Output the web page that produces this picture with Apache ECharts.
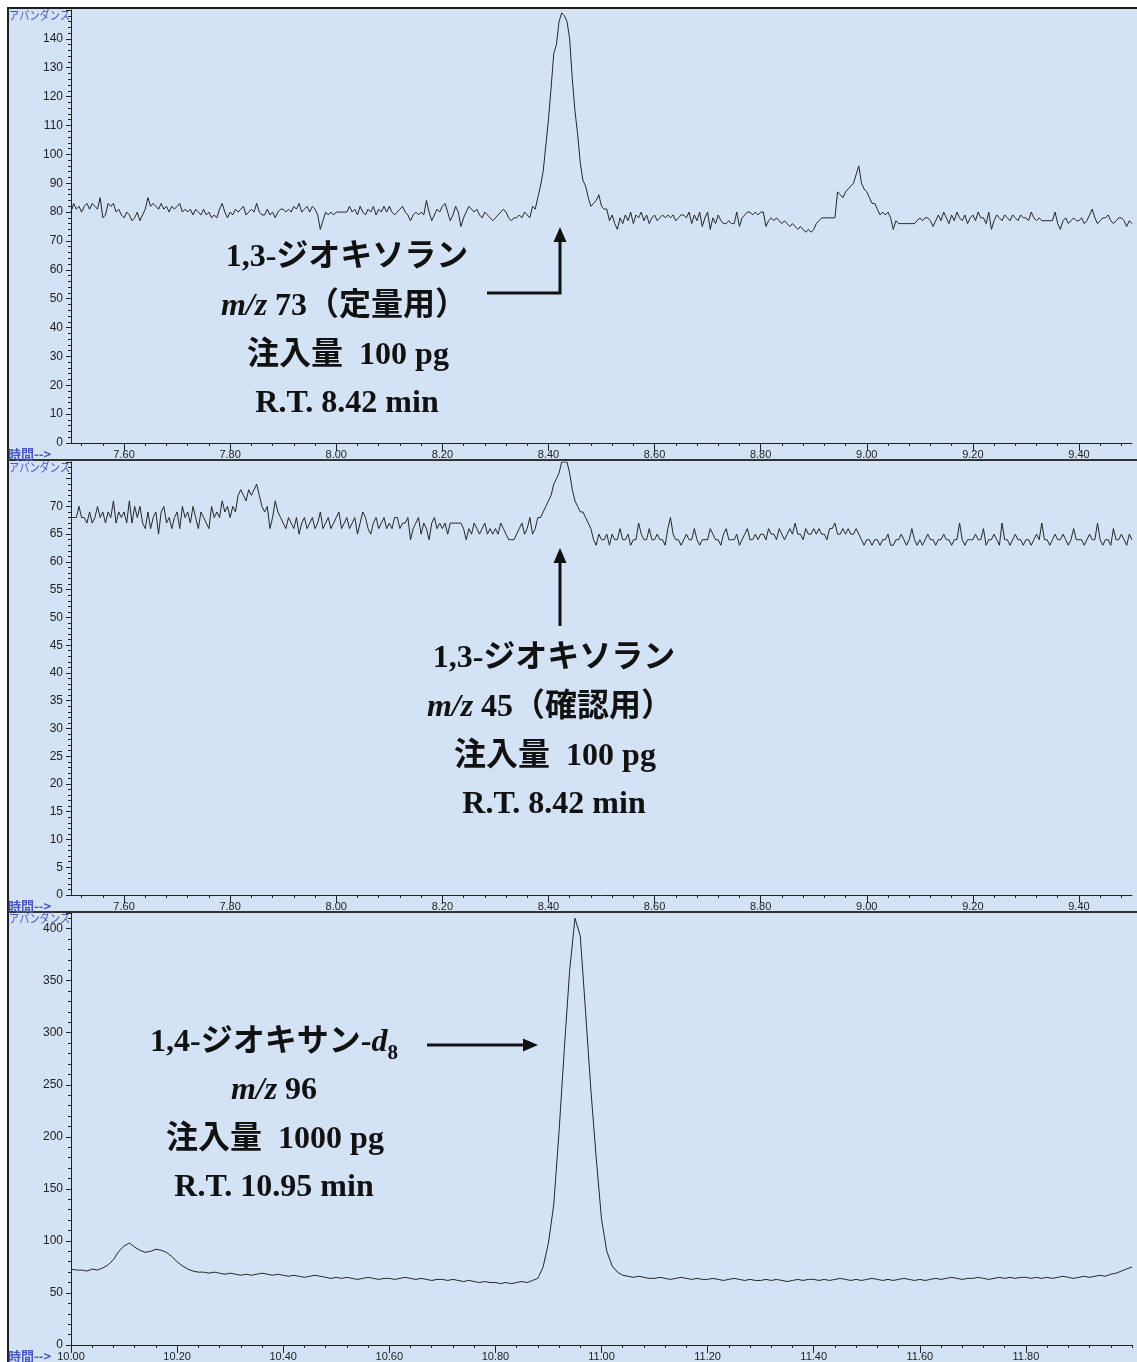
<!DOCTYPE html>
<html>
<head>
<meta charset="utf-8">
<script src="https://cdn.jsdelivr.net/npm/echarts@6/dist/echarts.min.js"></script>
<style>
html,body{margin:0;padding:0;background:#ffffff;}
#c{width:1137px;height:1362px;}
</style>
</head>
<body>
<div id="c"></div>
<script>
// SIM trace m/z 73, 7.500–9.500 min, one point every 0.005 min
const t73Start = 7.5, t73Step = 0.005;
const abund73 = [
  80,83,81,82,80,82,83,81,83,82,81,85,78,79,83,82,83,80,81,79,
  78,80,79,77,78,80,77,79,81,85,82,83,82,81,83,81,82,80,82,81,
  82,83,80,81,80,81,79,81,80,79,81,79,80,78,79,78,81,83,80,78,
  80,79,81,80,81,82,79,80,81,80,83,80,79,79,81,79,80,78,80,81,
  81,80,81,80,82,81,83,80,81,82,80,82,81,79,74,77,80,79,80,79,
  80,80,80,80,80,82,80,81,79,82,80,79,81,80,82,79,81,80,82,80,
  82,80,79,80,81,82,80,79,77,79,80,79,80,79,84,80,77,79,81,80,
  82,83,80,77,79,82,80,75,78,80,82,81,80,81,79,78,80,79,78,77,
  78,79,80,81,80,78,77,78,78,79,78,80,79,78,82,81,85,89,94,103,
  112,123,135,138,146,149,148,146,140,126,115,107,97,91,89,85,82,83,84,86,
  82,81,81,77,79,76,74,78,76,79,77,80,76,79,78,80,77,79,76,78,
  79,77,78,79,78,79,78,79,77,78,79,79,78,80,76,79,77,80,75,78,
  80,74,78,76,79,77,76,76,77,76,76,80,75,78,79,80,80,79,80,79,
  80,80,75,77,78,77,78,77,76,77,76,75,76,75,74,75,74,73,74,73,
  74,76,77,78,78,78,78,78,78,87,86,85,87,88,89,90,93,96,90,88,
  87,85,83,83,81,79,80,79,80,78,74,77,76,76,76,76,76,76,76,77,
  78,77,78,78,77,75,77,79,77,80,78,76,79,77,80,78,77,79,76,78,
  79,77,80,78,78,76,80,74,77,79,78,77,79,78,77,79,78,77,79,78,
  78,77,80,78,77,78,77,77,77,77,77,80,76,74,77,78,76,77,78,77,
  77,78,76,77,79,81,78,76,77,78,78,79,77,76,77,78,78,77,75,77,
  76
];

// SIM trace m/z 45, same time window
const t45Start = 7.5, t45Step = 0.005;
const abund45 = [
  68,68,68,70,68,68,67,69,67,68,70,68,69,67,69,68,71,67,69,68,
  69,67,71,67,70,68,70,67,66,69,66,68,69,65,69,70,67,68,66,68,
  69,66,70,68,69,67,70,68,66,69,68,67,66,70,68,69,68,71,69,70,
  68,70,69,72,73,72,71,73,72,73,74,72,70,69,70,66,68,71,69,68,
  67,66,68,67,66,68,65,67,68,66,67,68,66,67,69,66,67,68,66,67,
  68,69,66,67,68,66,67,68,65,67,69,68,66,65,67,68,66,67,68,66,
  67,66,68,68,66,67,67,68,64,66,67,68,65,67,66,64,67,68,66,67,
  66,67,65,67,67,67,67,67,66,64,66,65,67,66,65,66,67,65,66,65,
  66,65,67,66,65,64,64,64,65,66,67,65,66,68,65,66,68,68,69,70,
  71,72,74,75,76,78,78,78,76,73,71,70,69,69,68,67,66,64,63,65,
  64,64,65,63,65,64,64,66,64,64,65,63,64,64,67,65,64,64,66,64,
  64,65,64,64,63,66,68,65,64,64,63,64,65,64,64,66,64,63,64,64,
  64,66,65,64,64,63,65,66,64,64,64,65,63,64,65,66,64,64,65,64,
  65,65,64,66,65,65,64,66,65,64,65,66,65,67,65,65,64,66,65,65,
  66,65,66,65,65,64,66,66,67,65,65,66,65,66,65,65,66,65,64,63,
  64,64,63,64,64,63,64,64,65,63,63,64,64,65,64,63,64,66,64,63,
  64,63,64,65,64,64,63,64,64,65,64,64,63,64,64,67,64,63,64,64,
  64,65,64,64,66,63,64,64,65,64,63,67,64,64,63,64,65,64,64,63,
  64,64,63,64,65,64,67,64,64,63,64,65,64,64,65,64,63,64,66,64,
  64,64,63,64,65,64,64,67,64,63,64,64,63,66,64,64,65,64,63,65,
  64
];

// SIM trace m/z 96 (internal standard), 10.00–12.00 min, every 0.01 min
const t96Start = 10.0, t96Step = 0.01;
const abund96 = [
  73,72,72,71,73,72,74,77,82,90,
  95,98,94,91,89,90,92,91,89,85,
  80,76,73,71,70,70,69,70,69,68,
  69,68,67,68,67,68,69,68,67,68,
  67,66,67,66,65,66,67,66,65,64,
  65,64,65,64,63,64,65,64,63,64,
  64,63,64,65,64,63,64,63,62,63,
  63,62,63,62,61,62,61,60,61,60,
  60,59,60,59,60,61,60,62,64,75,
  98,135,205,285,360,410,393,320,245,180,
  121,90,76,70,67,66,65,66,65,64,
  64,65,64,63,64,65,64,63,64,63,
  63,64,63,62,63,64,63,62,63,62,
  62,63,62,63,62,61,62,63,62,63,
  63,62,63,62,63,64,63,62,63,62,
  63,64,63,62,63,62,63,64,63,62,
  63,62,63,64,63,64,65,64,63,64,
  64,65,64,63,64,65,64,65,64,65,
  65,64,65,64,65,64,65,66,65,64,
  65,66,65,66,67,66,68,69,71,73,
  75
];

// axis labels
const xLabelsTop = [7.60, 7.80, 8.00, 8.20, 8.40, 8.60, 8.80, 9.00, 9.20, 9.40];
const xLabelsBottom = [10.00, 10.20, 10.40, 10.60, 10.80, 11.00, 11.20, 11.40, 11.60, 11.80];
const yLabels73 = [0, 10, 20, 30, 40, 50, 60, 70, 80, 90, 100, 110, 120, 130, 140];
const yLabels45 = [0, 5, 10, 15, 20, 25, 30, 35, 40, 45, 50, 55, 60, 65, 70];
const yLabels96 = [0, 50, 100, 150, 200, 250, 300, 350, 400];

function pairs(start, step, vals) {
  return vals.map((v, i) => [+(start + i * step).toFixed(3), v]);
}
// minor tick positions: every multiple of step inside [a, b]
function multiples(a, b, step) {
  const out = [];
  for (let k = Math.ceil(a / step - 1e-9); k * step <= b + 1e-9; k++) out.push(+(k * step).toFixed(2));
  return out;
}

const INK = '#222222';
const TICK_FONT = '"Liberation Sans Narrow", "Liberation Sans", Arial, sans-serif';
const BG = '#d3e2f4';
const AXIS_BLUE = '#4a59c2';

const panels = [
  { top: 10,  xMin: 7.5,  xMax: 9.5,  labels: xLabelsTop,    yMax: 150, yInt: 10, yLabels: yLabels73, data: pairs(t73Start, t73Step, abund73) },
  { top: 462, xMin: 7.5,  xMax: 9.5,  labels: xLabelsTop,    yMax: 78,  yInt: 5,  yLabels: yLabels45, data: pairs(t45Start, t45Step, abund45) },
  { top: 913, xMin: 10.0, xMax: 12.0, labels: xLabelsBottom, yMax: 415, yInt: 50, yLabels: yLabels96, data: pairs(t96Start, t96Step, abund96) }
];

const grid = [], xAxis = [], yAxis = [], series = [];
panels.forEach((p, g) => {
  grid.push({ left: 71, width: 1061, top: p.top, height: 433, show: false });
  // time axis with short ticks every 0.04 min and labels every 0.20 min
  xAxis.push({
    type: 'value', gridIndex: g, position: 'bottom', offset: 0, min: p.xMin, max: p.xMax,
    axisLine: { show: true, onZero: false, lineStyle: { color: INK, width: 1 } },
    axisTick: { show: true, customValues: multiples(p.xMin, p.xMax, 0.04), length: 3, lineStyle: { color: INK } },
    axisLabel: { show: true, customValues: p.labels, formatter: v => v.toFixed(2), margin: 6,
                 fontSize: 11, color: INK, fontFamily: TICK_FONT },
    splitLine: { show: false }
  });
  // longer ticks under the labelled times
  xAxis.push({
    type: 'value', gridIndex: g, position: 'bottom', offset: 0, min: p.xMin, max: p.xMax,
    axisLine: { show: false, onZero: false },
    axisTick: { show: true, customValues: p.labels, length: 8, lineStyle: { color: INK } },
    axisLabel: { show: false },
    splitLine: { show: false }
  });
  yAxis.push({
    type: 'value', gridIndex: g, position: 'left', min: 0, max: p.yMax, interval: p.yInt,
    axisLine: { show: true, onZero: false, lineStyle: { color: INK, width: 1 } },
    axisTick: { show: true, length: 5, lineStyle: { color: INK } },
    minorTick: { show: true, splitNumber: 5, length: 3, lineStyle: { color: INK } },
    axisLabel: { customValues: p.yLabels, margin: 8, fontSize: 12, color: INK, fontFamily: TICK_FONT },
    splitLine: { show: false }, minorSplitLine: { show: false }
  });
  series.push({
    type: 'line', xAxisIndex: 2 * g, yAxisIndex: g, data: p.data,
    showSymbol: false, symbol: 'none', sampling: null,
    lineStyle: { color: '#262626', width: 1 }, z: 3
  });
});

// annotation text
const SERIF = '"Liberation Serif", "Times New Roman", "Noto Sans CJK JP", serif';
const FS = 32;
const baseText = { fontSize: FS, fontWeight: 'bold', fontFamily: SERIF, fill: '#111111' };
const rich = {
  i: { fontSize: FS, fontWeight: 'bold', fontStyle: 'italic', fontFamily: SERIF, fill: '#111111' },
  s: { fontSize: 21, fontWeight: 'bold', fontFamily: SERIF, fill: '#111111', verticalAlign: 'bottom', lineHeight: 21 }
};
function label(text, x, y) {
  return {
    type: 'text', x: x, y: y, z: 60,
    style: Object.assign({}, baseText, { text: text, textAlign: 'center', textVerticalAlign: 'middle', lineHeight: 42, rich: rich })
  };
}
// blue axis captions, drawn slightly condensed
function axisWord(text, x, y, size, sx, weight) {
  return {
    type: 'text', x: x, y: y, z: 60, scaleX: sx, scaleY: 1,
    style: { text: text, fontSize: size, fontWeight: weight, fontFamily: '"Noto Sans CJK JP", sans-serif',
             fill: AXIS_BLUE, textVerticalAlign: 'top' }
  };
}
function hline(x1, y1, x2, y2, w, c) {
  return { type: 'line', z: 55, shape: { x1: x1, y1: y1, x2: x2, y2: y2 }, style: { stroke: c, lineWidth: w } };
}
function arrowLine(points) {
  return { type: 'polyline', z: 60, shape: { points: points }, style: { stroke: '#111111', lineWidth: 3, fill: null } };
}
function arrowHead(points) {
  return { type: 'polygon', z: 60, shape: { points: points }, style: { fill: '#111111' } };
}

const graphic = [
  { type: 'rect', z: -10, silent: true, shape: { x: 8, y: 8, width: 1129, height: 1354 }, style: { fill: BG } },
  hline(8, 8, 1137, 8, 2, '#1e1e1e'),
  hline(8, 7, 8, 1362, 2, '#1e1e1e'),
  hline(8, 460, 1137, 460, 2, '#333333'),
  hline(8, 912, 1137, 912, 2, '#333333'),

  axisWord('アバンダンス', 9, 9, 12, 0.85, 'normal'),
  axisWord('時間-->', 8, 448, 13, 1, 'bold'),
  axisWord('アバンダンス', 9, 461, 12, 0.85, 'normal'),
  axisWord('時間-->', 8, 900, 13, 1, 'bold'),
  axisWord('アバンダンス', 9, 912, 12, 0.85, 'normal'),
  axisWord('時間-->', 8, 1350, 13, 1, 'bold'),

  label('1,3-ジオキソラン', 347, 258),
  label('{i|m/z} 73（定量用）', 344, 307),
  label('注入量  100 pg', 348, 356),
  label('R.T. 8.42 min', 347, 404),
  arrowLine([[487, 293], [560, 293], [560, 240]]),
  arrowHead([[560, 227], [553.5, 242], [566.5, 242]]),

  label('1,3-ジオキソラン', 554, 659),
  label('{i|m/z} 45（確認用）', 550, 708),
  label('注入量  100 pg', 555, 757),
  label('R.T. 8.42 min', 554, 805),
  arrowLine([[560, 626], [560, 562]]),
  arrowHead([[560, 548], [553.5, 563], [566.5, 563]]),

  label('1,4-ジオキサン-{i|d}{s|8}', 274, 1043),
  label('{i|m/z} 96', 274, 1091),
  label('注入量  1000 pg', 275, 1140),
  label('R.T. 10.95 min', 274, 1188),
  arrowLine([[427, 1045], [525, 1045]]),
  arrowHead([[538, 1045], [523, 1038.5], [523, 1051.5]])
];

const chart = echarts.init(document.getElementById('c'), null, { renderer: 'canvas', width: 1137, height: 1362 });
chart.setOption({
  animation: false,
  backgroundColor: '#ffffff',
  grid: grid,
  xAxis: xAxis,
  yAxis: yAxis,
  series: series,
  graphic: graphic
});
</script>
</body>
</html>
